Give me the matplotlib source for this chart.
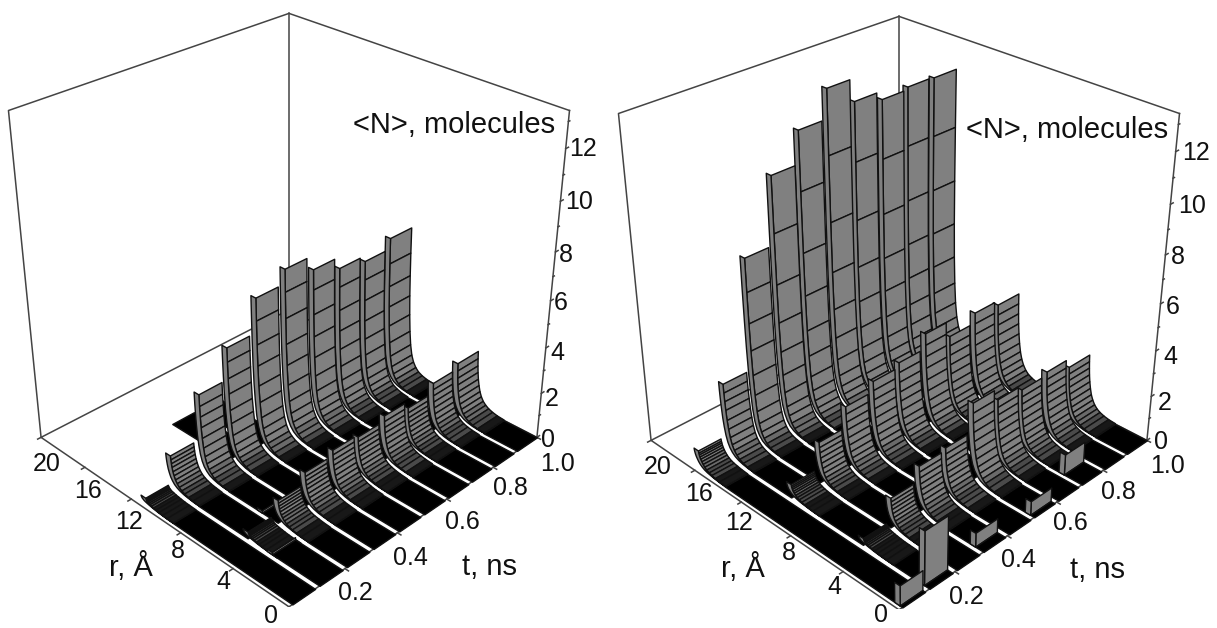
"""Two 3D ribbon charts of <N>(r, t)."""

import matplotlib
matplotlib.use("Agg")
import matplotlib.pyplot as plt
from mpl_toolkits.mplot3d.art3d import Poly3DCollection

W, H = 1217, 628
ZMAX = 13.4
GAP = 0.016

# offsets of the rows of one ridge from its top, Angstrom
ridge_dr = [-2.2, -1.7, -1.35, -1.05, -0.82, -0.62, -0.46, -0.33, -0.23, -0.15, -0.09, -0.05, -0.02, 0.0]

r_ticks = [0, 4, 8, 12, 16, 20]
t_ticks = [0.2, 0.4, 0.6, 0.8, 1.0]
z_ticks = [0, 2, 4, 6, 8, 10, 12]
z_minor = [1, 3, 5, 7, 9, 11, 13]

# left panel: r of each ridge per t strip, and <N> on its rows
left_back_r = [11.1, 11.2, 11.0, 10.9, 10.7, 10.5, 10.3, 10.2, 10.1, 10.0]
left_back_n = [
    [.01, .02, .03, .05, .07, .09, .11, .13, .15, .18, .20, .23, .26, .30],
    [.02, .05, .08, .13, .19, .27, .38, .50, .65, .80, .97, 1.12, 1.28, 1.45],
    [.03, .06, .11, .18, .29, .43, .63, .90, 1.25, 1.65, 2.1, 2.55, 3.0, 3.5],
    [.03, .07, .14, .23, .36, .54, .81, 1.2, 1.7, 2.25, 2.95, 3.6, 4.3, 4.9],
    [.03, .08, .15, .26, .40, .63, .95, 1.4, 2.05, 2.75, 3.6, 4.5, 5.5, 6.45],
    [.04, .09, .17, .29, .46, .70, 1.05, 1.55, 2.25, 3.1, 4.0, 5.1, 6.2, 7.15],
    [.03, .08, .16, .27, .43, .66, .98, 1.45, 2.1, 2.9, 3.8, 4.75, 5.8, 6.65],
    [.03, .07, .14, .24, .38, .60, .90, 1.35, 1.95, 2.7, 3.5, 4.4, 5.4, 6.2],
    [.03, .07, .14, .23, .37, .57, .87, 1.3, 1.9, 2.6, 3.4, 4.3, 5.2, 6.0],
    [.03, .07, .13, .22, .36, .56, .85, 1.3, 1.9, 2.65, 3.5, 4.4, 5.4, 6.5],
]
left_front_r = [None, 5.2, 5.0, 5.0, 4.9, 4.9, 4.8, 4.8, 4.7, 4.6]
left_front_n = [
    None,
    [.01, .02, .03, .05, .07, .09, .11, .13, .15, .18, .20, .23, .26, .30],
    [.02, .04, .07, .10, .14, .20, .27, .35, .44, .55, .65, .76, .88, 1.0],
    [.02, .05, .08, .13, .19, .27, .37, .50, .65, .82, .97, 1.15, 1.32, 1.5],
    [.03, .05, .09, .14, .21, .30, .42, .58, .76, .97, 1.17, 1.38, 1.6, 1.8],
    [.02, .05, .09, .14, .20, .29, .40, .54, .72, .90, 1.1, 1.3, 1.5, 1.7],
    [.03, .06, .10, .15, .22, .32, .45, .62, .82, 1.04, 1.27, 1.5, 1.75, 2.0],
    [.02, .05, .08, .13, .19, .28, .39, .53, .70, .89, 1.08, 1.27, 1.48, 1.7],
    [.03, .06, .10, .16, .24, .35, .49, .67, .89, 1.13, 1.38, 1.65, 1.92, 2.2],
    [.03, .06, .11, .18, .27, .39, .55, .75, 1.0, 1.27, 1.56, 1.85, 2.17, 2.5],
]
left_far = [11.1, 11.2, 11.0, 15.7, 15.7, 10.5, 10.3, 10.2, 10.1, 10.0]
left_blocks_k = [1, 2]
left_blocks_r = [3.4, 6.2]
left_blocks_n = [0.1, 0.1]

# right panel
right_back_r = [15.9, 15.8, 15.8, 15.7, 15.7, 15.6, 15.6, 15.5, 15.5, 15.4]
right_back_n = [
    [.02, .04, .07, .10, .14, .20, .27, .35, .44, .52, .60, .68, .75, .85],
    [.03, .07, .12, .20, .31, .46, .66, .94, 1.28, 1.65, 2.08, 2.45, 2.82, 3.2],
    [.03, .08, .14, .24, .40, .62, .95, 1.45, 2.15, 3.0, 4.05, 5.2, 6.5, 7.9],
    [.04, .09, .17, .29, .47, .74, 1.1, 1.7, 2.45, 3.45, 4.7, 6.3, 8.4, 10.7],
    [.04, .10, .19, .32, .52, .79, 1.2, 1.8, 2.7, 3.8, 5.3, 7.1, 9.6, 12.0],
    [.05, .11, .20, .35, .56, .86, 1.3, 2.0, 2.95, 4.2, 5.8, 7.9, 10.6, 13.2],
    [.05, .10, .19, .34, .54, .84, 1.3, 1.95, 2.85, 4.0, 5.5, 7.5, 9.9, 12.3],
    [.05, .10, .19, .33, .53, .83, 1.25, 1.9, 2.8, 3.95, 5.4, 7.3, 9.6, 12.0],
    [.05, .10, .19, .33, .53, .83, 1.25, 1.9, 2.8, 4.0, 5.5, 7.4, 9.7, 12.1],
    [.04, .10, .19, .33, .54, .82, 1.25, 1.9, 2.8, 4.0, 5.5, 7.4, 9.7, 12.1],
]
right_mid_r = [None, 10.4, 10.3, 10.3, 10.2, 10.2, 10.1, 10.1, 10.0, 10.0]
right_mid_n = [
    None,
    [.01, .03, .05, .07, .10, .14, .18, .23, .29, .34, .41, .47, .53, .60],
    [.02, .05, .08, .13, .20, .28, .39, .54, .72, .92, 1.13, 1.35, 1.57, 1.8],
    [.03, .06, .11, .18, .28, .41, .58, .80, 1.07, 1.37, 1.7, 2.03, 2.37, 2.7],
    [.03, .07, .12, .20, .32, .47, .68, .95, 1.27, 1.63, 2.02, 2.4, 2.8, 3.2],
    [.04, .08, .14, .22, .34, .51, .73, 1.0, 1.35, 1.74, 2.13, 2.55, 2.97, 3.4],
    [.04, .09, .16, .26, .41, .61, .88, 1.22, 1.63, 2.1, 2.6, 3.1, 3.6, 4.1],
    [.04, .08, .14, .22, .34, .51, .73, 1.02, 1.36, 1.75, 2.15, 2.57, 2.98, 3.4],
    [.04, .09, .15, .25, .39, .59, .84, 1.17, 1.56, 2.0, 2.47, 2.95, 3.42, 3.9],
    [.04, .08, .15, .24, .37, .56, .80, 1.11, 1.48, 1.9, 2.35, 2.8, 3.25, 3.7],
]
right_front_r = [None, 4.8, 4.8, 4.7, 4.7, 4.6, 4.6, 4.6, 4.5, 4.5]
right_front_n = [
    None,
    [.01, .02, .03, .05, .07, .09, .11, .13, .15, .18, .20, .23, .26, .30],
    [.02, .04, .07, .11, .16, .23, .32, .42, .54, .68, .83, .98, 1.14, 1.3],
    [.03, .05, .09, .14, .22, .32, .45, .62, .82, 1.03, 1.25, 1.5, 1.75, 2.0],
    [.03, .06, .10, .15, .23, .33, .47, .65, .86, 1.08, 1.33, 1.58, 1.84, 2.1],
    [.04, .08, .14, .23, .36, .53, .76, 1.06, 1.4, 1.78, 2.16, 2.55, 2.97, 3.4],
    [.03, .07, .12, .20, .31, .46, .66, .92, 1.22, 1.56, 1.9, 2.25, 2.57, 2.9],
    [.03, .06, .12, .19, .29, .43, .61, .84, 1.12, 1.43, 1.76, 2.08, 2.39, 2.7],
    [.03, .07, .12, .20, .31, .46, .66, .92, 1.22, 1.55, 1.88, 2.23, 2.57, 2.9],
    [.03, .06, .11, .18, .27, .40, .57, .78, 1.04, 1.32, 1.62, 1.92, 2.2, 2.5],
]
right_far = [15.9, 15.8, 15.8, 15.7, 15.7, 15.6, 15.6, 15.5, 15.5, 15.4]
right_blocks_k = [0, 1, 3, 5, 7]
right_blocks_r = [0.2, 0.4, 0.6, 0.3, 1.3]
right_blocks_n = [0.85, 2.3, 0.6, 0.6, 0.9]

# text placement, pixels
left_r_xy = [(271, 616), (223, 582), (178, 551), (129, 522), (88, 491), (47, 464)]
left_t_xy = [(355, 593), (410, 558), (462, 522), (510, 488), (557, 464)]
left_z_xy = [(548, 440), (552, 399), (557, 353), (561, 303), (566, 255), (579, 202), (583, 149)]
right_r_xy = [(881, 615), (834, 587), (789, 553), (739, 523), (699, 494), (658, 467)]
right_t_xy = [(966, 597), (1018, 560), (1070, 523), (1118, 492), (1167, 466)]
right_z_xy = [(1161, 442), (1165, 403), (1170, 357), (1173, 307), (1178, 257), (1192, 206), (1196, 153)]

plt.rcParams["font.family"] = ["Liberation Sans", "DejaVu Sans"]


def put(fig, x, y, s, size=18):
    fig.text(x / W, 1 - y / H, s, fontsize=size, ha="center", va="center", color="#111111")


def add_poly(ax, verts, face, zorder, lw=1.0):
    poly = Poly3DCollection([verts], facecolors=face, edgecolors="#111111", linewidths=lw)
    ax.add_collection3d(poly, autolim=False)
    poly.set_zorder(zorder)


def cell_colour(n):
    # the rows crowd together near the floor and read as dark bands
    if n < 0.1:
        return "#181818"
    if n < 0.25:
        return "#4a4a4a"
    if n < 0.5:
        return "#6a6a6a"
    return "#808080"


def draw_strip(ax, k, features, far, zorder):
    t0 = 0.012 if k == 0 else k / 10 + GAP / 2
    t1 = 1.0 if k == 9 else (k + 1) / 10 - GAP / 2
    features = sorted(features, key=lambda f: -f[0][-1])
    r_prev = far
    for rs, ns in features:
        # flat part behind the ridge
        if r_prev > rs[-1]:
            add_poly(ax, [(t0, r_prev, 0), (t1, r_prev, 0), (t1, rs[-1], 0), (t0, rs[-1], 0)], "black", zorder)
            zorder += 1
        for i in range(len(rs) - 1, 0, -1):
            face = "#808080" if len(rs) == 2 else cell_colour(ns[i])
            add_poly(ax, [(t0, rs[i], ns[i]), (t1, rs[i], ns[i]), (t1, rs[i - 1], ns[i - 1]), (t0, rs[i - 1], ns[i - 1])],
                     face, zorder)
            zorder += 1
        # thin side band of the ribbon
        band = [(t0, r, n) for r, n in zip(rs, ns)] + [(t0, r + 0.38, n) for r, n in zip(rs[::-1], ns[::-1])]
        add_poly(ax, band, "#808080", zorder)
        zorder += 1
        r_prev = rs[0]
    add_poly(ax, [(t0, r_prev, 0), (t1, r_prev, 0), (t1, 0, 0), (t0, 0, 0)], "black", zorder)
    return zorder + 1


def draw_panel(fig, rect, rows, far, blocks, r_xy, t_xy, z_xy):
    ax = fig.add_axes([rect[0] / W, rect[1] / H, rect[2] / W, rect[2] / H], projection="3d")
    ax.set_proj_type("persp", focal_length=0.449)
    ax.view_init(elev=30, azim=-135)
    ax.set_box_aspect((1, 1, 1.01))
    ax.set_xlim(0, 1)
    ax.set_ylim(0, 20)
    ax.set_zlim(0, ZMAX)
    ax.set_axis_off()
    ax.computed_zorder = False
    ax.patch.set_alpha(0)

    box = dict(color="#444444", lw=1.1, zorder=1)
    ax.plot([0, 0, 1, 1], [0, 20, 20, 0], [0, 0, 0, 0], **box)
    ax.plot([0, 0, 1, 1], [20, 20, 20, 0], [0, ZMAX, ZMAX, ZMAX], **box)
    ax.plot([1, 1], [20, 20], [0, ZMAX], **box)
    ax.plot([1, 1], [0, 0], [0, ZMAX], **box)
    ax.plot([0, 1], [0, 0], [0, 0], **box)
    for r in r_ticks:
        ax.plot([0, -0.012], [r, r], [0, 0], **box)
    for t in t_ticks:
        ax.plot([t, t], [0, -0.25], [0, 0], **box)
    for z in z_ticks:
        ax.plot([1, 1.012], [0, 0], [z, z], **box)
    for z in z_minor:
        ax.plot([1, 1.006], [0, 0], [z, z], **box)

    zorder = 2
    for k in range(9, -1, -1):
        features = []
        for row_r, row_n in rows:
            if row_r[k] is not None:
                features.append(([row_r[k] + d for d in ridge_dr], row_n[k]))
        for bk, br, bn in zip(*blocks):
            if bk == k:
                features.append(([br - 0.01, br], [0, bn]))
        zorder = draw_strip(ax, k, features, far[k], zorder)

    for (x, y), r in zip(r_xy, r_ticks):
        put(fig, x, y, str(r))
    for (x, y), t in zip(t_xy, t_ticks):
        put(fig, x, y, f"{t:.1f}")
    for (x, y), z in zip(z_xy, z_ticks):
        put(fig, x, y, str(z))
    return ax


fig = plt.figure(figsize=(W / 100, H / 100), dpi=100)

draw_panel(fig, (-33.5, 21.5, 628), [(left_back_r, left_back_n), (left_front_r, left_front_n)], left_far,
           (left_blocks_k, left_blocks_r, left_blocks_n), left_r_xy, left_t_xy, left_z_xy)
draw_panel(fig, (576.5, 18.5, 628), [(right_back_r, right_back_n), (right_mid_r, right_mid_n),
                                     (right_front_r, right_front_n)], right_far,
           (right_blocks_k, right_blocks_r, right_blocks_n), right_r_xy, right_t_xy, right_z_xy)

put(fig, 454, 125, "<N>, molecules", 21)
put(fig, 1067, 130, "<N>, molecules", 21)
put(fig, 131, 567, "r, Å", 21)
put(fig, 743, 568, "r, Å", 21)
put(fig, 490, 567, "t, ns", 21)
put(fig, 1098, 570, "t, ns", 21)

fig.savefig("out.png", dpi=100)
